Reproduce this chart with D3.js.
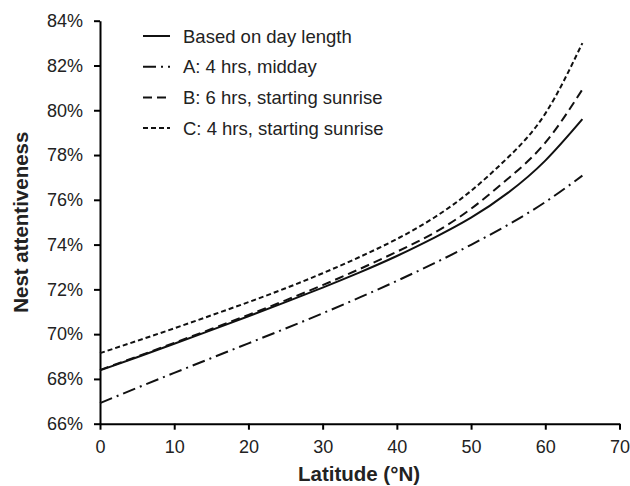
<!DOCTYPE html>
<html>
<head>
<meta charset="utf-8">
<script src="https://cdn.jsdelivr.net/npm/d3@7"></script>
<style>
  body { margin: 0; background: #fff; }
  svg { font-family: "Liberation Sans", Arial, sans-serif; }
  .axis path, .axis line { stroke: #000; stroke-width: 2; }
  .axis text { font-size: 18px; fill: #222; font-family: "Liberation Sans", Arial, sans-serif; }
  .series { fill: none; stroke: #111; stroke-width: 2; }
  .legendText { font-size: 18.5px; fill: #222; }
  .axisTitle { font-size: 20.5px; font-weight: bold; fill: #222; }
</style>
</head>
<body>
<script>
//latitude values (deg N) and nest attentiveness (%)
var latitude = [0, 5, 10, 15, 20, 25, 30, 35, 40, 45, 50, 55, 60, 65];

var dayLength = [68.38, 68.97, 69.57, 70.18, 70.8, 71.43, 72.08, 72.76, 73.49, 74.3, 75.2, 76.32, 77.75, 79.6];
var middayA   = [66.92, 67.6, 68.27, 68.93, 69.59, 70.25, 70.93, 71.64, 72.38, 73.16, 73.99, 74.89, 75.9, 77.08];
var sunriseB  = [68.4, 69.0, 69.61, 70.23, 70.86, 71.51, 72.19, 72.91, 73.68, 74.52, 75.6, 76.95, 78.55, 80.93];
var sunriseC  = [69.15, 69.7, 70.26, 70.84, 71.43, 72.05, 72.72, 73.45, 74.25, 75.2, 76.4, 77.9, 79.85, 83.0];

var seriesNames = ["Based on day length", "A: 4 hrs, midday", "B: 6 hrs, starting sunrise", "C: 4 hrs, starting sunrise"];
var seriesDash = [null, "13,5,2,5", "9,5", "5,3"];

var xTicks = [0, 10, 20, 30, 40, 50, 60, 70];
var yTicks = [66, 68, 70, 72, 74, 76, 78, 80, 82, 84];

/*svg dimensions*/
var w = 630, h = 486;

window.onload = function(){

    var container = d3.select("body")
        .append("svg")
        .attr("width", w)
        .attr("height", h);

    var x = d3.scaleLinear()
        .domain([0, 70])
        .range([100, 619.5]);

    var y = d3.scaleLinear()
        .domain([66, 84])
        .range([423.7, 20.7]);

    //x axis
    container.append("g")
        .attr("class", "axis")
        .attr("transform", "translate(0," + y(66) + ")")
        .call(d3.axisBottom(x).tickValues(xTicks).tickSize(6).tickSizeOuter(0).tickPadding(11));

    //y axis
    container.append("g")
        .attr("class", "axis")
        .attr("transform", "translate(" + x(0) + ",0)")
        .call(d3.axisLeft(y).tickValues(yTicks).tickSize(6).tickSizeOuter(0).tickPadding(11)
            .tickFormat(function(d){ return d + "%"; }));

    //lines
    var allSeries = [dayLength, middayA, sunriseB, sunriseC];

    var line = d3.line()
        .x(function(d, i){ return x(latitude[i]); })
        .y(function(d){ return y(d); })
        .curve(d3.curveNatural);

    container.selectAll(".series")
        .data(allSeries)
        .enter()
        .append("path")
        .attr("class", "series")
        .attr("d", line)
        .attr("stroke-dasharray", function(d, i){ return seriesDash[i]; });

    //legend
    var legend = container.selectAll(".legendItem")
        .data(seriesNames)
        .enter()
        .append("g")
        .attr("class", "legendItem")
        .attr("transform", function(d, i){
            return "translate(143," + (36 + i * 30.7) + ")";
        });

    legend.append("line")
        .attr("x1", 0)
        .attr("x2", 27)
        .attr("y1", 0)
        .attr("y2", 0)
        .attr("class", "series")
        .attr("stroke-dasharray", function(d, i){ return seriesDash[i]; });

    legend.append("text")
        .attr("class", "legendText")
        .attr("x", 40)
        .attr("y", 6.5)
        .text(function(d){ return d; });

    //axis titles
    container.append("text")
        .attr("class", "axisTitle")
        .attr("text-anchor", "middle")
        .attr("x", 359)
        .attr("y", 481)
        .text("Latitude (°N)");

    container.append("text")
        .attr("class", "axisTitle")
        .attr("text-anchor", "middle")
        .attr("transform", "translate(27.5," + y(75) + ") rotate(-90)")
        .text("Nest attentiveness");
};
</script>
</body>
</html>
